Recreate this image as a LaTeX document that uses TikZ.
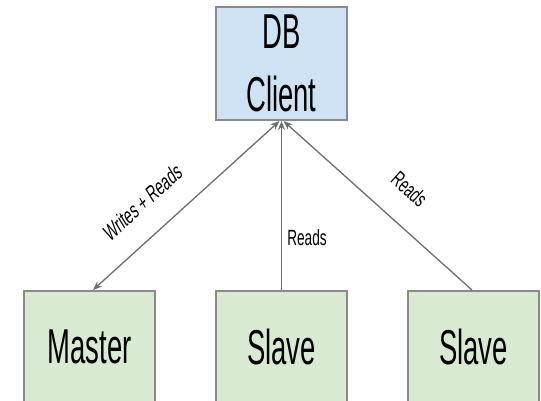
\documentclass[tikz,border=0pt]{standalone}
\usepackage{fontspec}
\setmainfont{Liberation Sans}
\newfontfamily\boxfont[FakeStretch=0.56]{Liberation Sans}
\newfontfamily\lblfont[FakeStretch=0.62]{Liberation Sans}
\newfontfamily\lblitfont[FakeStretch=0.66,FakeSlant=0.2]{Liberation Sans}
\usetikzlibrary{arrows.meta,calc}
\definecolor{clientfill}{HTML}{CFE2F3}
\definecolor{nodefill}{HTML}{D9EAD3}
\definecolor{edgegray}{HTML}{8A8A8A}
\definecolor{linkgray}{HTML}{6E6E6E}
\tikzset{
  box/.style={draw=edgegray, line width=2pt, minimum width=131pt,
    inner sep=0pt, align=center,
    font=\boxfont\fontsize{49}{63}\selectfont},
  clientbox/.style={box, fill=clientfill, minimum height=113pt},
  serverbox/.style={box, fill=nodefill, minimum height=112pt},
  link/.style={draw=linkgray, line width=1.3pt,
    -{Stealth[length=9pt,width=7pt]}},
  lbl/.style={inner sep=0pt, font=\lblfont\fontsize{22}{24}\selectfont},
  itlbl/.style={inner sep=0pt, font=\lblitfont\fontsize{22}{24}\selectfont}
}
\begin{document}
\begin{tikzpicture}[x=1pt,y=-1pt]
\clip (0,0) rectangle (541,401);
\fill[white] (0,0) rectangle (541,401);

\node[clientbox] (client) at (281.5,63.5) {DB\\Client};
\node[serverbox] (master) at (89.5,347) {Master};
\node[serverbox] (slaveA) at (281.5,347) {Slave};
\node[serverbox] (slaveB) at (473.5,347) {Slave};

\draw[link, {Stealth[length=9pt,width=7pt]}-{Stealth[length=9pt,width=7pt]}]
  ($(master.north)+(3.5,0)$) -- ($(client.south)+(-2,0)$);
\draw[link] (slaveA.north) -- (client.south);
\draw[link] ($(slaveB.north)+(-1.5,0)$) -- ($(client.south)+(2,0)$);

\node[itlbl, rotate=42.4] (wr) at (141.5,203) {Writes + Reads};
\node[lbl] (rdA) at (307,238) {Reads};
\node[lbl, rotate=-41.8] (rdB) at (409.5,189) {Reads};
\end{tikzpicture}
\end{document}
